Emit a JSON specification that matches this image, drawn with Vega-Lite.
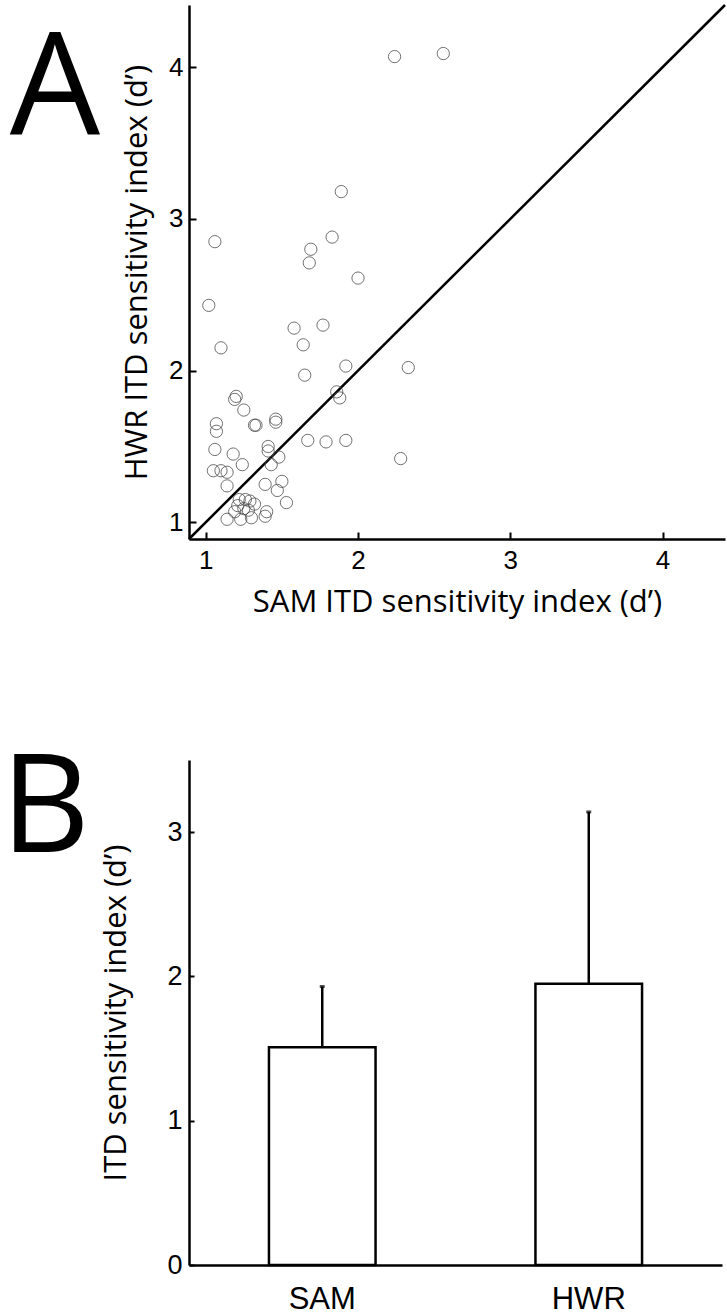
{
  "$schema": "https://vega.github.io/schema/vega-lite/v6.json",
  "background": "white",
  "padding": {"left": 0, "top": 3, "right": 2, "bottom": 0},
  "spacing": 125,
  "config": {
    "view": {"stroke": null},
    "axis": {
      "domainColor": "black",
      "domainWidth": 2.5,
      "tickColor": "black",
      "tickWidth": 2,
      "grid": false,
      "labelFont": "Liberation Sans",
      "labelColor": "black",
      "titleFont": "Open Sans",
      "titleFontWeight": "normal",
      "titleColor": "black",
      "titleFontSize": 31
    }
  },
  "vconcat": [
    {
      "width": 536,
      "height": 534,
      "title": {
        "text": "A",
        "orient": "left",
        "anchor": "end",
        "frame": "group",
        "angle": 0,
        "align": "right",
        "baseline": "alphabetic",
        "font": "Open Sans",
        "fontWeight": "normal",
        "fontSize": 143,
        "color": "black",
        "dy": 129,
        "offset": -69
      },
      "layer": [
        {
          "data": {"values": [{"x0": 0.89, "y0": 0.89, "x1": 4.41, "y1": 4.41}]},
          "mark": {"type": "rule", "color": "black", "strokeWidth": 2.5},
          "encoding": {
            "x": {"field": "x0", "type": "quantitative", "scale": {"domain": [0.89, 4.41], "nice": false, "zero": false}},
            "y": {"field": "y0", "type": "quantitative", "scale": {"domain": [0.89, 4.41], "nice": false, "zero": false}},
            "x2": {"field": "x1"},
            "y2": {"field": "y1"}
          }
        },
        {
          "data": {
            "values": [
              {"sam": 2.24, "hwr": 4.07}, {"sam": 2.56, "hwr": 4.09}, {"sam": 1.89, "hwr": 3.18},
              {"sam": 1.06, "hwr": 2.85}, {"sam": 1.83, "hwr": 2.88}, {"sam": 1.69, "hwr": 2.80},
              {"sam": 1.68, "hwr": 2.71}, {"sam": 2.00, "hwr": 2.61}, {"sam": 1.02, "hwr": 2.43},
              {"sam": 1.10, "hwr": 2.15}, {"sam": 1.58, "hwr": 2.28}, {"sam": 1.77, "hwr": 2.30},
              {"sam": 1.64, "hwr": 2.17}, {"sam": 1.92, "hwr": 2.03}, {"sam": 2.33, "hwr": 2.02},
              {"sam": 1.65, "hwr": 1.97}, {"sam": 1.86, "hwr": 1.86}, {"sam": 1.88, "hwr": 1.82},
              {"sam": 1.20, "hwr": 1.83}, {"sam": 1.19, "hwr": 1.81}, {"sam": 1.25, "hwr": 1.74},
              {"sam": 1.07, "hwr": 1.65}, {"sam": 1.07, "hwr": 1.60}, {"sam": 1.32, "hwr": 1.64},
              {"sam": 1.33, "hwr": 1.64}, {"sam": 1.46, "hwr": 1.68}, {"sam": 1.46, "hwr": 1.66},
              {"sam": 1.06, "hwr": 1.48}, {"sam": 1.18, "hwr": 1.45}, {"sam": 1.24, "hwr": 1.38},
              {"sam": 1.41, "hwr": 1.50}, {"sam": 1.41, "hwr": 1.47}, {"sam": 1.48, "hwr": 1.43},
              {"sam": 1.43, "hwr": 1.38}, {"sam": 1.67, "hwr": 1.54}, {"sam": 1.79, "hwr": 1.53},
              {"sam": 1.92, "hwr": 1.54}, {"sam": 2.28, "hwr": 1.42}, {"sam": 1.05, "hwr": 1.34},
              {"sam": 1.10, "hwr": 1.34}, {"sam": 1.14, "hwr": 1.33}, {"sam": 1.14, "hwr": 1.24},
              {"sam": 1.39, "hwr": 1.25}, {"sam": 1.50, "hwr": 1.27}, {"sam": 1.47, "hwr": 1.21},
              {"sam": 1.53, "hwr": 1.13}, {"sam": 1.40, "hwr": 1.07}, {"sam": 1.39, "hwr": 1.04},
              {"sam": 1.14, "hwr": 1.02}, {"sam": 1.23, "hwr": 1.02}, {"sam": 1.30, "hwr": 1.03},
              {"sam": 1.22, "hwr": 1.15}, {"sam": 1.26, "hwr": 1.15}, {"sam": 1.29, "hwr": 1.14},
              {"sam": 1.32, "hwr": 1.12}, {"sam": 1.21, "hwr": 1.11}, {"sam": 1.25, "hwr": 1.09},
              {"sam": 1.28, "hwr": 1.08}, {"sam": 1.19, "hwr": 1.07}
            ]
          },
          "mark": {"type": "point", "shape": "circle", "filled": false, "stroke": "#4d4d4d", "strokeWidth": 0.8, "size": 150, "opacity": 1},
          "encoding": {
            "x": {
              "field": "sam", "type": "quantitative",
              "scale": {"domain": [0.89, 4.41], "nice": false, "zero": false},
              "axis": {"values": [1, 2, 3, 4], "format": "d", "tickSize": -7, "labelPadding": 15, "labelFontSize": 26, "title": "SAM ITD sensitivity index (d’)", "titlePadding": 14}
            },
            "y": {
              "field": "hwr", "type": "quantitative",
              "scale": {"domain": [0.89, 4.41], "nice": false, "zero": false},
              "axis": {"values": [1, 2, 3, 4], "format": "d", "tickSize": -7, "labelPadding": 13, "labelFontSize": 26, "title": "HWR ITD sensitivity index (d’)", "titlePadding": 15}
            }
          }
        }
      ]
    },
    {
      "width": 533,
      "height": 505,
      "title": {
        "text": "B",
        "orient": "left",
        "anchor": "end",
        "frame": "group",
        "angle": 0,
        "align": "right",
        "baseline": "alphabetic",
        "font": "Open Sans",
        "fontWeight": "normal",
        "fontSize": 138,
        "color": "black",
        "dy": 92,
        "offset": -78
      },
      "data": {
        "values": [
          {"cond": "SAM", "mean": 1.51, "upper": 1.93},
          {"cond": "HWR", "mean": 1.95, "upper": 3.14}
        ]
      },
      "encoding": {
        "x": {
          "field": "cond", "type": "nominal", "sort": ["SAM", "HWR"],
          "scale": {"paddingInner": 0.6, "paddingOuter": 0.3},
          "axis": {"labelAngle": 0, "ticks": false, "labelPadding": 19, "labelFontSize": 31, "title": null}
        }
      },
      "layer": [
        {
          "mark": {"type": "rule", "color": "black", "strokeWidth": 2.5},
          "encoding": {
            "y": {"field": "mean", "type": "quantitative"},
            "y2": {"field": "upper"}
          }
        },
        {
          "mark": {"type": "tick", "color": "black", "size": 5, "thickness": 3},
          "encoding": {
            "y": {"field": "upper", "type": "quantitative"}
          }
        },
        {
          "mark": {"type": "bar", "fill": "white", "stroke": "black", "strokeWidth": 2.5},
          "encoding": {
            "y": {
              "field": "mean", "type": "quantitative",
              "scale": {"domain": [0, 3.5], "nice": false},
              "axis": {"values": [0, 1, 2, 3], "format": "d", "tickSize": -5, "labelPadding": 12, "labelFontSize": 27, "title": "ITD sensitivity index (d’)", "titlePadding": 34}
            }
          }
        }
      ]
    }
  ]
}
